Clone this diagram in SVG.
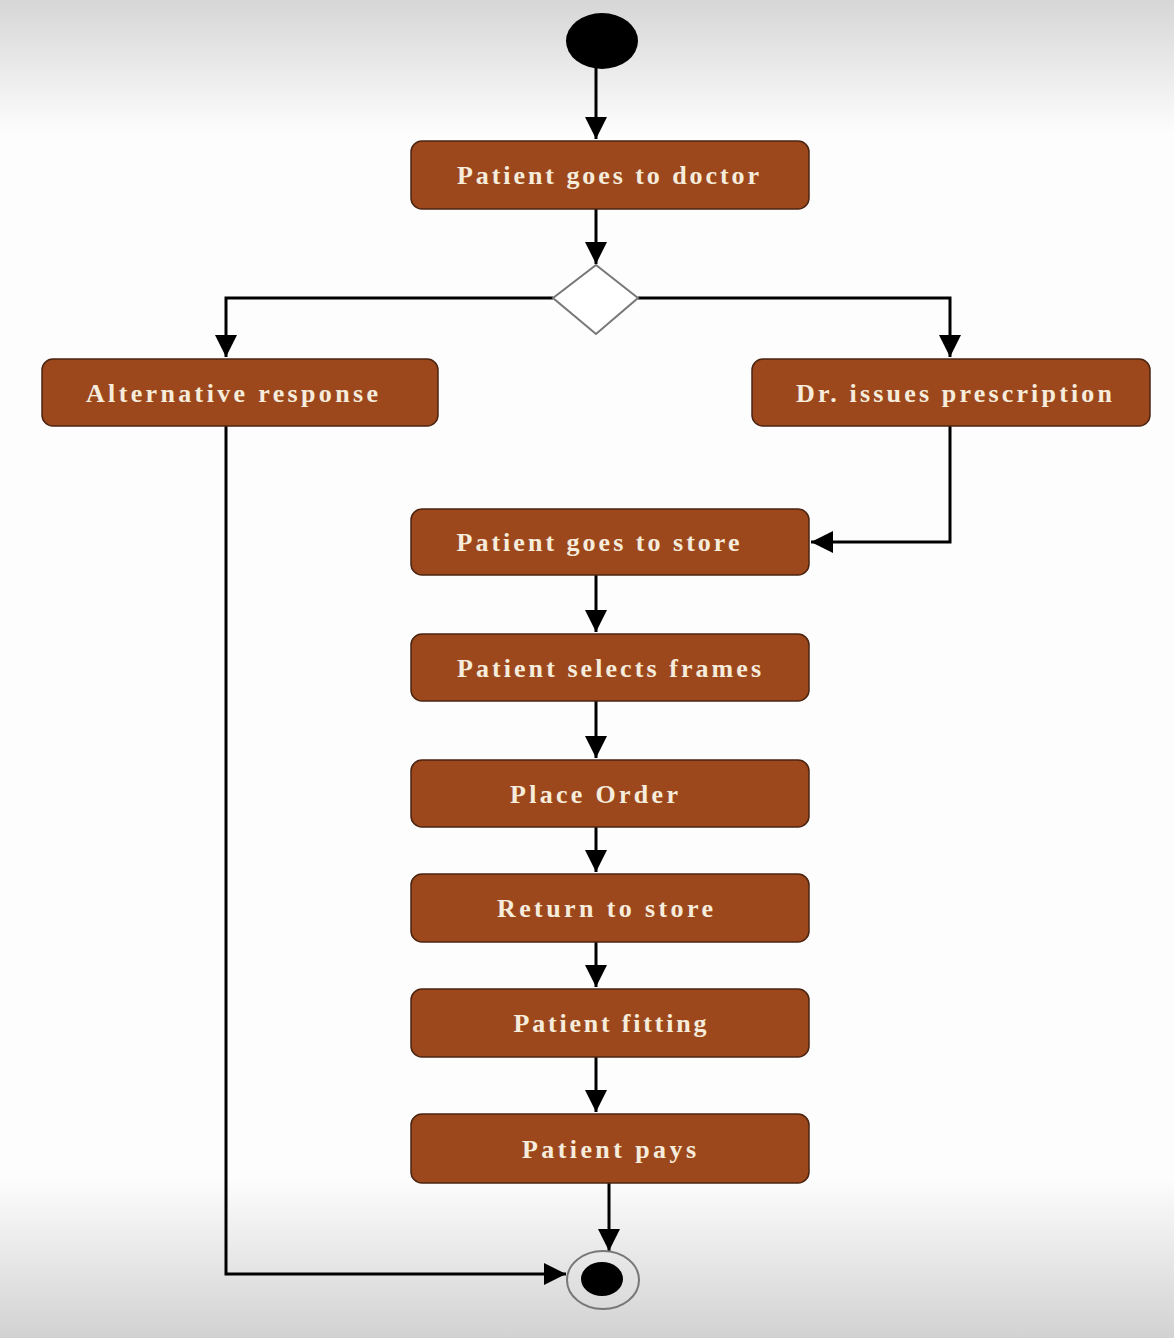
<svg xmlns="http://www.w3.org/2000/svg" width="1174" height="1338" viewBox="0 0 1174 1338">
<defs>
<linearGradient id="bg" x1="0" y1="0" x2="0" y2="1">
<stop offset="0" stop-color="#d6d6d6"/>
<stop offset="0.1" stop-color="#fdfdfd"/>
<stop offset="0.88" stop-color="#fdfdfd"/>
<stop offset="1" stop-color="#d2d2d2"/>
</linearGradient>
<marker id="ah" markerUnits="userSpaceOnUse" markerWidth="24" markerHeight="24" viewBox="0 0 24 24" refX="22" refY="12" orient="auto">
<path d="M0,1 L22,12 L0,23 Z" fill="#000"/>
</marker>
</defs>
<style>
.box{fill:#9d481c;stroke:#4a2410;stroke-width:1.5}
.lbl{font-family:"Liberation Serif","Times New Roman",serif;font-weight:bold;font-size:26px;fill:#f6ecdc;text-anchor:middle}
.edge{fill:none;stroke:#000;stroke-width:3;marker-end:url(#ah)}
</style>
<rect x="0" y="0" width="1174" height="1338" fill="url(#bg)"/>
<g id="connectors">
<path class="edge" d="M596,68 V139"/>
<path class="edge" d="M596,209 V264"/>
<path class="edge" d="M553,298 H226 V357"/>
<path class="edge" d="M638,298 H950 V357"/>
<path class="edge" d="M950,426 V542 H811"/>
<path class="edge" d="M596,575 V632"/>
<path class="edge" d="M596,701 V758"/>
<path class="edge" d="M596,827 V872"/>
<path class="edge" d="M596,942 V987"/>
<path class="edge" d="M596,1057 V1112"/>
<path class="edge" d="M609,1183 V1251"/>
<path class="edge" d="M226,426 V1274 H566"/>
</g>
<g id="start"><ellipse cx="602" cy="41" rx="36" ry="28" fill="#000"/></g>
<g id="n1"><rect class="box" x="411" y="141" width="398" height="68" rx="11"/><text class="lbl" x="608" y="184" textLength="302" lengthAdjust="spacing">Patient goes to doctor</text></g>
<g id="decision"><polygon points="596,265 638,298 596,334 553,298" fill="#fff" stroke="#777" stroke-width="2"/></g>
<g id="n2"><rect class="box" x="42" y="359" width="396" height="67" rx="11"/><text class="lbl" x="232" y="402" textLength="292" lengthAdjust="spacing">Alternative response</text></g>
<g id="n3"><rect class="box" x="752" y="359" width="398" height="67" rx="11"/><text class="lbl" x="954" y="402" textLength="316" lengthAdjust="spacing">Dr. issues prescription</text></g>
<g id="n4"><rect class="box" x="411" y="509" width="398" height="66" rx="11"/><text class="lbl" x="598" y="551" textLength="283" lengthAdjust="spacing">Patient goes to store</text></g>
<g id="n5"><rect class="box" x="411" y="634" width="398" height="67" rx="11"/><text class="lbl" x="609" y="677" textLength="304" lengthAdjust="spacing">Patient selects frames</text></g>
<g id="n6"><rect class="box" x="411" y="760" width="398" height="67" rx="11"/><text class="lbl" x="594" y="803" textLength="168" lengthAdjust="spacing">Place Order</text></g>
<g id="n7"><rect class="box" x="411" y="874" width="398" height="68" rx="11"/><text class="lbl" x="605" y="917" textLength="216" lengthAdjust="spacing">Return to store</text></g>
<g id="n8"><rect class="box" x="411" y="989" width="398" height="68" rx="11"/><text class="lbl" x="610" y="1032" textLength="193" lengthAdjust="spacing">Patient fitting</text></g>
<g id="n9"><rect class="box" x="411" y="1114" width="398" height="69" rx="11"/><text class="lbl" x="609" y="1158" textLength="174" lengthAdjust="spacing">Patient pays</text></g>
<g id="end"><ellipse cx="603" cy="1280" rx="36" ry="29" fill="none" stroke="#777" stroke-width="2"/><ellipse cx="602" cy="1279" rx="21" ry="17" fill="#000"/></g>
</svg>
